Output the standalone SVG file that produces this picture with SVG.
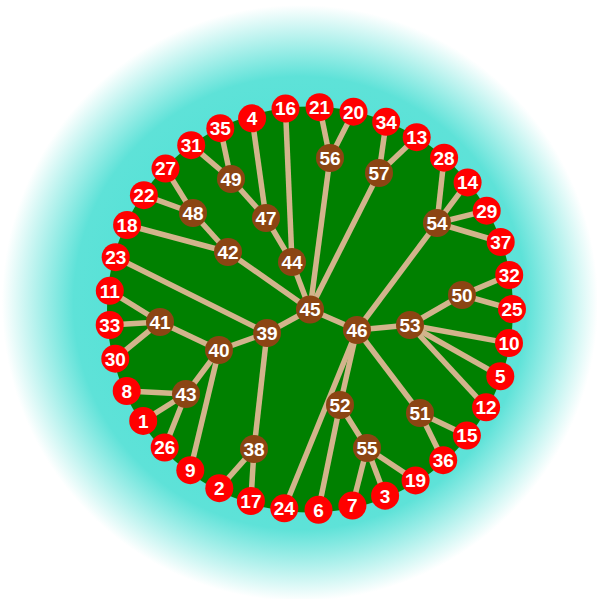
<svg xmlns="http://www.w3.org/2000/svg" width="597" height="599" viewBox="0 0 597 599">
<defs>
<radialGradient id="bg" gradientUnits="userSpaceOnUse" cx="300" cy="303" r="298">
<stop offset="0" stop-color="#40E0D0"/>
<stop offset="0.76" stop-color="#5EE2D8"/>
<stop offset="1" stop-color="#FFFFFF"/>
</radialGradient>
<style>
.e line{stroke:#D2B48C;stroke-width:5.5}
.leaf circle{fill:#FF0000}
.inner circle{fill:#8B4513}
circle{r:14px}
text{font-family:"Liberation Sans",Arial,sans-serif;font-weight:bold;font-size:19px;fill:#FFFFFF;text-anchor:middle}
</style>
</defs>
<rect x="0" y="0" width="597" height="599" fill="url(#bg)"/>
<circle cx="310" cy="309.5" r="203" style="r:203px" fill="#008000"/>
<g id="connectors" class="e">
<line x1="310" y1="309.5" x2="267" y2="333"/>
<line x1="310" y1="309.5" x2="228" y2="252"/>
<line x1="310" y1="309.5" x2="292" y2="262"/>
<line x1="310" y1="309.5" x2="330" y2="158"/>
<line x1="310" y1="309.5" x2="379" y2="173"/>
<line x1="310" y1="309.5" x2="357" y2="330"/>
<line x1="292" y1="262" x2="266" y2="218"/>
<line x1="292" y1="262" x2="285.5" y2="108.6"/>
<line x1="266" y1="218" x2="252.1" y2="118.3"/>
<line x1="266" y1="218" x2="231" y2="179"/>
<line x1="231" y1="179" x2="220.3" y2="128.2"/>
<line x1="231" y1="179" x2="191.2" y2="145.2"/>
<line x1="228" y1="252" x2="193" y2="213"/>
<line x1="228" y1="252" x2="127.1" y2="225"/>
<line x1="193" y1="213" x2="165.5" y2="168.6"/>
<line x1="193" y1="213" x2="143.9" y2="195.2"/>
<line x1="267" y1="333" x2="115.7" y2="257.2"/>
<line x1="267" y1="333" x2="219" y2="350"/>
<line x1="267" y1="333" x2="254" y2="449"/>
<line x1="219" y1="350" x2="160" y2="322"/>
<line x1="219" y1="350" x2="186" y2="394"/>
<line x1="219" y1="350" x2="190.3" y2="470.2"/>
<line x1="160" y1="322" x2="109.8" y2="290.8"/>
<line x1="160" y1="322" x2="109.7" y2="325"/>
<line x1="160" y1="322" x2="115.3" y2="358.7"/>
<line x1="186" y1="394" x2="126.7" y2="391"/>
<line x1="186" y1="394" x2="143.2" y2="420.9"/>
<line x1="186" y1="394" x2="164.7" y2="447.5"/>
<line x1="254" y1="449" x2="219.3" y2="488.2"/>
<line x1="254" y1="449" x2="250.9" y2="501"/>
<line x1="330" y1="158" x2="319.6" y2="107.2"/>
<line x1="330" y1="158" x2="353.5" y2="111.7"/>
<line x1="379" y1="173" x2="386.2" y2="121.8"/>
<line x1="379" y1="173" x2="416.7" y2="137.2"/>
<line x1="357" y1="330" x2="437" y2="223"/>
<line x1="437" y1="223" x2="444.1" y2="157.7"/>
<line x1="437" y1="223" x2="467.6" y2="182.4"/>
<line x1="437" y1="223" x2="486.7" y2="210.7"/>
<line x1="437" y1="223" x2="500.7" y2="242"/>
<line x1="357" y1="330" x2="410" y2="325"/>
<line x1="357" y1="330" x2="420" y2="413"/>
<line x1="357" y1="330" x2="340" y2="405"/>
<line x1="357" y1="330" x2="284.3" y2="508.3"/>
<line x1="410" y1="325" x2="462" y2="295"/>
<line x1="410" y1="325" x2="509" y2="343.1"/>
<line x1="410" y1="325" x2="500.3" y2="376.2"/>
<line x1="410" y1="325" x2="486.1" y2="407.3"/>
<line x1="462" y1="295" x2="509.2" y2="275"/>
<line x1="462" y1="295" x2="512" y2="309.1"/>
<line x1="420" y1="413" x2="466.9" y2="435.6"/>
<line x1="420" y1="413" x2="443.2" y2="460.2"/>
<line x1="340" y1="405" x2="318.5" y2="509.8"/>
<line x1="340" y1="405" x2="367" y2="448"/>
<line x1="367" y1="448" x2="352.4" y2="505.6"/>
<line x1="367" y1="448" x2="385.1" y2="495.7"/>
<line x1="367" y1="448" x2="415.6" y2="480.4"/>
</g>
<g class="leaf">
<g id="n21"><circle cx="319.6" cy="107.2" r="14"/><text x="319.6" y="114">21</text></g>
<g id="n20"><circle cx="353.5" cy="111.7" r="14"/><text x="353.5" y="118.5">20</text></g>
<g id="n34"><circle cx="386.2" cy="121.8" r="14"/><text x="386.2" y="128.6">34</text></g>
<g id="n13"><circle cx="416.7" cy="137.2" r="14"/><text x="416.7" y="144">13</text></g>
<g id="n28"><circle cx="444.1" cy="157.7" r="14"/><text x="444.1" y="164.5">28</text></g>
<g id="n14"><circle cx="467.6" cy="182.4" r="14"/><text x="467.6" y="189.2">14</text></g>
<g id="n29"><circle cx="486.7" cy="210.7" r="14"/><text x="486.7" y="217.5">29</text></g>
<g id="n37"><circle cx="500.7" cy="242" r="14"/><text x="500.7" y="248.8">37</text></g>
<g id="n32"><circle cx="509.2" cy="275" r="14"/><text x="509.2" y="281.8">32</text></g>
<g id="n25"><circle cx="512" cy="309.1" r="14"/><text x="512" y="315.9">25</text></g>
<g id="n10"><circle cx="509" cy="343.1" r="14"/><text x="509" y="349.9">10</text></g>
<g id="n5"><circle cx="500.3" cy="376.2" r="14"/><text x="500.3" y="383">5</text></g>
<g id="n12"><circle cx="486.1" cy="407.3" r="14"/><text x="486.1" y="414.1">12</text></g>
<g id="n15"><circle cx="466.9" cy="435.6" r="14"/><text x="466.9" y="442.4">15</text></g>
<g id="n36"><circle cx="443.2" cy="460.2" r="14"/><text x="443.2" y="467">36</text></g>
<g id="n19"><circle cx="415.6" cy="480.4" r="14"/><text x="415.6" y="487.2">19</text></g>
<g id="n3"><circle cx="385.1" cy="495.7" r="14"/><text x="385.1" y="502.5">3</text></g>
<g id="n7"><circle cx="352.4" cy="505.6" r="14"/><text x="352.4" y="512.4">7</text></g>
<g id="n6"><circle cx="318.5" cy="509.8" r="14"/><text x="318.5" y="516.6">6</text></g>
<g id="n24"><circle cx="284.3" cy="508.3" r="14"/><text x="284.3" y="515.1">24</text></g>
<g id="n17"><circle cx="250.9" cy="501" r="14"/><text x="250.9" y="507.8">17</text></g>
<g id="n2"><circle cx="219.3" cy="488.2" r="14"/><text x="219.3" y="495">2</text></g>
<g id="n9"><circle cx="190.3" cy="470.2" r="14"/><text x="190.3" y="477">9</text></g>
<g id="n26"><circle cx="164.7" cy="447.5" r="14"/><text x="164.7" y="454.3">26</text></g>
<g id="n1"><circle cx="143.2" cy="420.9" r="14"/><text x="143.2" y="427.7">1</text></g>
<g id="n8"><circle cx="126.7" cy="391" r="14"/><text x="126.7" y="397.8">8</text></g>
<g id="n30"><circle cx="115.3" cy="358.7" r="14"/><text x="115.3" y="365.5">30</text></g>
<g id="n33"><circle cx="109.7" cy="325" r="14"/><text x="109.7" y="331.8">33</text></g>
<g id="n11"><circle cx="109.8" cy="290.8" r="14"/><text x="109.8" y="297.6">11</text></g>
<g id="n23"><circle cx="115.7" cy="257.2" r="14"/><text x="115.7" y="264">23</text></g>
<g id="n18"><circle cx="127.1" cy="225" r="14"/><text x="127.1" y="231.8">18</text></g>
<g id="n22"><circle cx="143.9" cy="195.2" r="14"/><text x="143.9" y="202">22</text></g>
<g id="n27"><circle cx="165.5" cy="168.6" r="14"/><text x="165.5" y="175.4">27</text></g>
<g id="n31"><circle cx="191.2" cy="145.2" r="14"/><text x="191.2" y="152">31</text></g>
<g id="n35"><circle cx="220.3" cy="128.2" r="14"/><text x="220.3" y="135">35</text></g>
<g id="n4"><circle cx="252.1" cy="118.3" r="14"/><text x="252.1" y="125.1">4</text></g>
<g id="n16"><circle cx="285.5" cy="108.6" r="14"/><text x="285.5" y="115.4">16</text></g>
</g>
<g class="inner">
<g id="n38"><circle cx="254" cy="449" r="14"/><text x="254" y="455.8">38</text></g>
<g id="n39"><circle cx="267" cy="333" r="14"/><text x="267" y="339.8">39</text></g>
<g id="n40"><circle cx="219" cy="350" r="14"/><text x="219" y="356.8">40</text></g>
<g id="n41"><circle cx="160" cy="322" r="14"/><text x="160" y="328.8">41</text></g>
<g id="n42"><circle cx="228" cy="252" r="14"/><text x="228" y="258.8">42</text></g>
<g id="n43"><circle cx="186" cy="394" r="14"/><text x="186" y="400.8">43</text></g>
<g id="n44"><circle cx="292" cy="262" r="14"/><text x="292" y="268.8">44</text></g>
<g id="n45"><circle cx="310" cy="309.5" r="14"/><text x="310" y="316.3">45</text></g>
<g id="n46"><circle cx="357" cy="330" r="14"/><text x="357" y="336.8">46</text></g>
<g id="n47"><circle cx="266" cy="218" r="14"/><text x="266" y="224.8">47</text></g>
<g id="n48"><circle cx="193" cy="213" r="14"/><text x="193" y="219.8">48</text></g>
<g id="n49"><circle cx="231" cy="179" r="14"/><text x="231" y="185.8">49</text></g>
<g id="n50"><circle cx="462" cy="295" r="14"/><text x="462" y="301.8">50</text></g>
<g id="n51"><circle cx="420" cy="413" r="14"/><text x="420" y="419.8">51</text></g>
<g id="n52"><circle cx="340" cy="405" r="14"/><text x="340" y="411.8">52</text></g>
<g id="n53"><circle cx="410" cy="325" r="14"/><text x="410" y="331.8">53</text></g>
<g id="n54"><circle cx="437" cy="223" r="14"/><text x="437" y="229.8">54</text></g>
<g id="n55"><circle cx="367" cy="448" r="14"/><text x="367" y="454.8">55</text></g>
<g id="n56"><circle cx="330" cy="158" r="14"/><text x="330" y="164.8">56</text></g>
<g id="n57"><circle cx="379" cy="173" r="14"/><text x="379" y="179.8">57</text></g>
</g>
</svg>
